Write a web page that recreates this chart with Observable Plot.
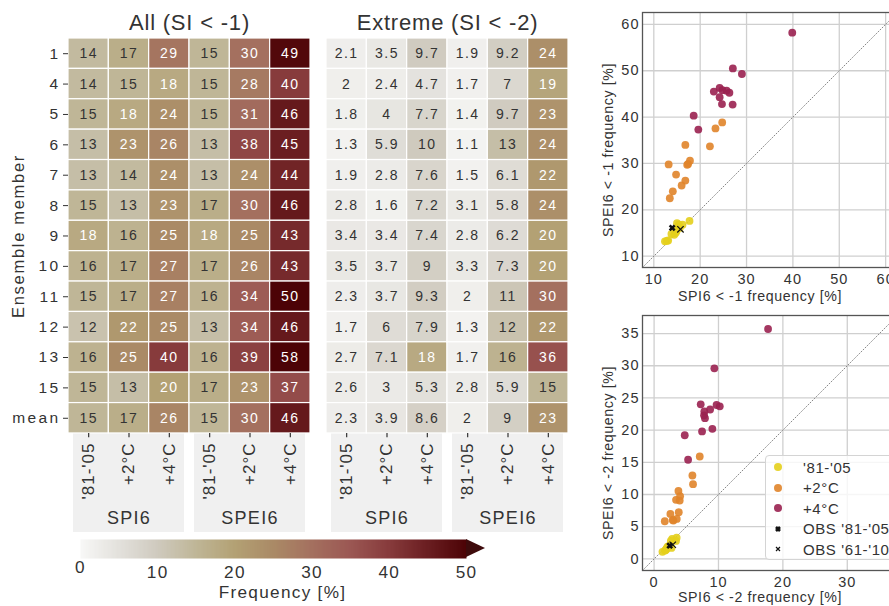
<!DOCTYPE html>
<html><head><meta charset="utf-8">
<script src="https://cdn.jsdelivr.net/npm/d3@7"></script>
<script src="https://cdn.jsdelivr.net/npm/@observablehq/plot@0.6"></script>
<style>
html,body{margin:0;padding:0;background:#fff;overflow:hidden;}
#root{position:relative;width:889px;height:606px;overflow:hidden;font-family:"Liberation Sans",Arial,sans-serif;color:#333;}
.abs{position:absolute;}
.abs svg{max-width:none !important;}
[font-size="14"]{letter-spacing:1.5px;}
[font-size="15.5"]{letter-spacing:2.4px;}
[font-size="17"]{letter-spacing:1px;}
[font-size="18"]{letter-spacing:1.3px;}
[font-size="22"]{letter-spacing:0.8px;}
[font-size="16.5"]{letter-spacing:1.7px;}
[font-size="17.2"]{letter-spacing:1.3px;}
[font-size="14.5"]{letter-spacing:1px;}
[font-size="14.2"]{letter-spacing:0.6px;}
.leg{font-size:15px;letter-spacing:0.6px;color:#333;}
</style></head><body><div id="root"></div>
<script>
// ---------- DATA ----------
const rows = ["1","4","5","6","7","8","9","10","11","12","13","15","mean"];
const cols = ["'81-'05","+2°C","+4°C","'81-'05","+2°C","+4°C"];
const groups = ["SPI6","SPEI6"];

// All (SI < -1)
const allSpiHist = [14,14,15,13,13,15,18,16,15,12,16,15,15];
const allSpi2    = [17,15,18,23,14,13,16,17,17,22,25,13,17];
const allSpi4    = [29,18,24,26,24,23,25,27,27,25,40,20,26];
const allSpeiHist= [15,15,15,13,13,17,18,17,16,13,16,17,15];
const allSpei2   = [30,28,31,38,24,30,25,26,34,34,39,23,30];
const allSpei4   = [49,40,46,45,44,46,43,43,50,46,58,37,46];

// Extreme (SI < -2)
const extSpiHist = [2.1,2,1.8,1.3,1.9,2.8,3.4,3.5,2.3,1.7,2.7,2.6,2.3];
const extSpi2    = [3.5,2.4,4,5.9,2.8,1.6,3.4,3.7,3.7,6,7.1,3,3.9];
const extSpi4    = [9.7,4.7,7.7,10,7.6,7.2,7.4,9,9.3,7.9,18,5.3,8.6];
const extSpeiHist= [1.9,1.7,1.4,1.1,1.5,3.1,2.8,3.3,2,1.3,1.7,2.8,2];
const extSpei2   = [9.2,7,9.7,13,6.1,5.8,6.2,7.3,11,12,16,5.9,9];
const extSpei4   = [24,19,23,24,22,24,20,20,30,22,36,15,23];

// Scatter (unrounded positions)
const sc1HistX = [13.8,14.4,14.7,12.8,13.1,15.0,17.7,16.2,15.2,12.4,15.6,15.4,14.9];
const sc1HistY = [14.8,14.6,15.0,13.3,13.4,17.1,17.6,16.8,16.3,13.2,16.1,16.8,15.4];
const sc1P2X = [17.4,14.8,17.8,23.3,14.1,13.2,16.0,16.8,16.8,22.1,24.75,13.45,17.2];
const sc1P2Y = [29.9,27.6,30.6,37.55,24.0,29.8,25.25,26.3,34.0,33.7,38.85,22.5,29.7];
const sc1P4X = [29.0,18.6,24.2,26.3,24.2,22.95,24.7,27.0,27.05,24.8,39.86,19.6,25.7];
const sc1P4Y = [49.3,40.3,46.3,45.25,44.3,45.5,42.8,42.7,50.5,45.8,58.2,37.3,45.7];
const sc1Obs81 = [13.96,16.1];
const sc1Obs61 = [15.75,15.8];

const sc2HistX = [2.1,2,1.8,1.3,1.9,2.8,3.4,3.5,2.3,1.7,2.7,2.6,2.3];
const sc2HistY = [1.9,1.7,1.4,1.1,1.5,3.1,2.8,3.3,2,1.3,1.7,2.8,2];
const sc2P2X = [3.41,2.53,4.04,5.95,2.9,1.66,3.52,3.83,3.78,6.05,7.09,3.0,3.98];
const sc2P2Y = [9.17,6.99,9.74,12.95,6.06,5.85,6.21,7.25,10.56,11.6,15.9,5.95,9.06];
const sc2P4X = [9.7,4.76,7.8,10.2,7.76,7.24,7.45,9.05,9.36,7.9,17.7,5.28,8.7];
const sc2P4Y = [23.9,19.2,22.9,23.7,22.3,24.0,19.8,20.2,29.6,21.85,35.7,15.4,23.2];
const sc2Obs81 = [2.43,2.07];
const sc2Obs61 = [2.9,2.2];

const sc1Ticks = [10,20,30,40,50,60];
const sc2TicksX = [0,10,20,30];
const sc2TicksY = [0,5,10,15,20,25,30,35];
const legendLabels = ["'81-'05","+2°C","+4°C","OBS '81-'05","OBS '61-'10"];
const cbTicks = [0,10,20,30,40,50];

// ---------- STYLE ----------
const FONT = '"Liberation Sans", Arial, sans-serif';
const cHist = "#e4cf1c", cP2 = "#e0842a", cP4 = "#9a2150";
const colorOpts = {
  type: "linear", clamp: true,
  domain: [0,5,10,15,20,25,30,35,40,45,50],
  range: ["#f8f8f7","#e3e1dc","#cfcabe","#bfb697","#b3a174","#aa8a66","#a4705f","#9b5753","#873b3c","#6b1e21","#4c0306"]
};
const fmt = d3.format(".2~g");
const root = document.getElementById("root");
function place(el, left, top, w) {
  const d = document.createElement("div");
  d.className = "abs"; d.style.left = left + "px"; d.style.top = top + "px";
  if (w) d.style.width = w + "px";
  d.appendChild(el); root.appendChild(d); return d;
}

// ---------- HEATMAPS ----------
function heat(valueCols, {title, showRows, frameLeft}) {
  const data = [];
  valueCols.forEach((col, c) => col.forEach((v, r) => data.push({c, r, v})));
  const mL = showRows ? 68 : 10;
  const W = mL + 242 + 10;
  const plot = Plot.plot({
    width: W, height: 540,
    marginLeft: mL, marginRight: 10, marginTop: 38, marginBottom: 8,
    style: {fontFamily: FONT, color: "#333", background: "transparent", maxWidth: "none"},
    x: {domain: [0, 6], axis: null},
    y: {domain: [0, 16.26], reverse: true, axis: null},
    color: colorOpts,
    marks: [
      Plot.rect(groups, {x1: (d,i) => i*3, x2: (d,i) => i*3+3, y1: 13, y2: 16.26, fill: "#f0f0f0", insetLeft: 5, insetRight: 5}),
      Plot.rect(data, {x1: d => d.c, x2: d => d.c + 1, y1: d => d.r, y2: d => d.r + 1, fill: d => d.v, stroke: "white", strokeWidth: 1.2}),
      Plot.text(data, {filter: d => d.v <= 17.5, x: d => d.c + 0.5, y: d => d.r + 0.5, text: d => fmt(d.v), fill: "#333", fontSize: 14}),
      Plot.text(data, {filter: d => d.v > 17.5, x: d => d.c + 0.5, y: d => d.r + 0.5, text: d => fmt(d.v), fill: "white", fontSize: 14}),
      Plot.ruleX(cols, {x: (d,i) => i + 0.5, y1: 13, y2: 13.14, stroke: "#333", strokeWidth: 1.2}),
      Plot.text(cols, {x: (d,i) => i + 0.5, y: 13, dy: 9, rotate: -90, textAnchor: "end", lineAnchor: "middle", fontSize: 17, fill: "#333"}),
      Plot.text(groups, {x: (d,i) => i*3 + 1.5, y: 15.8, fontSize: 18, fill: "#333"}),
      Plot.text([title], {frameAnchor: "top", lineAnchor: "middle", dy: -16, fontSize: 22, fill: "#333"}),
      ...(showRows ? [
        Plot.axisY(rows.map((_, i) => i + 0.5), {tickFormat: d => rows[Math.floor(d)], tickSize: 5, tickPadding: 3, fontSize: 15.5, label: null}),
        Plot.text(["Ensemble member"], {frameAnchor: "left", textAnchor: "middle", lineAnchor: "middle", y: 6.5, dx: -50, rotate: -90, fontSize: 16.5, fill: "#333"})
      ] : [])
    ]
  });
  place(plot, frameLeft - mL, 0, W);
}
heat([allSpiHist, allSpi2, allSpi4, allSpeiHist, allSpei2, allSpei4], {title: "All (SI < -1)", showRows: true, frameLeft: 68});
heat([extSpiHist, extSpi2, extSpi4, extSpeiHist, extSpei2, extSpei4], {title: "Extreme (SI < -2)", showRows: false, frameLeft: 326});

// ---------- COLORBAR ----------
const cb = Plot.plot({
  width: 440, height: 70, marginLeft: 20, marginRight: 34, marginTop: 3, marginBottom: 48,
  style: {fontFamily: FONT, color: "#333", background: "transparent", maxWidth: "none"},
  x: {domain: [0, 50], axis: null}, y: {domain: [0, 1], axis: null},
  color: colorOpts,
  marks: [
    Plot.raster({x1: 0, x2: 50, y1: 0, y2: 1, width: 300, height: 1, fill: (x, y) => x, imageRendering: "auto"}),
    Plot.text(cbTicks.filter(t => t > 0), {x: d => d, frameAnchor: "bottom", lineAnchor: "middle", dy: 14, fontSize: 17.2, fill: "#333"}),
    Plot.text(cbTicks.filter(t => t === 0), {x: d => d, frameAnchor: "bottom", lineAnchor: "middle", dy: 8.5, fontSize: 17.2, fill: "#333"}),
    Plot.text(["Frequency [%]"], {x: 25, frameAnchor: "bottom", lineAnchor: "middle", dy: 34, dx: 9, fontSize: 17.2, fill: "#333"})
  ]
});
place(cb, 60, 536, 440);
const tri = document.createElement("div");
tri.className = "abs";
tri.style.cssText = "left:466px;top:539px;width:0;height:0;border-top:9.5px solid transparent;border-bottom:9.5px solid transparent;border-left:19px solid #3e0b0c;";
root.appendChild(tri);

// ---------- SCATTERS ----------
function scatter({top, height, marginTop, dom, ticksX, ticksY, xlab, ylab, labDy, hx, hy, p2x, p2y, p4x, p4y, o81, o61}) {
  const plot = Plot.plot({
    width: 320, height, marginLeft: 52, marginRight: 13, marginTop, marginBottom: height - marginTop - 255,
    style: {fontFamily: FONT, color: "#333", background: "transparent", maxWidth: "none", overflow: "visible"},
    x: {domain: dom, axis: null}, y: {domain: dom, axis: null},
    marks: [
      Plot.gridX(ticksX, {stroke: "#cfcfcf", strokeOpacity: 1, strokeWidth: 1.3}),
      Plot.gridY(ticksY, {stroke: "#cfcfcf", strokeOpacity: 1, strokeWidth: 1.3}),
      Plot.line(dom, {x: d => d, y: d => d, stroke: "#888", strokeWidth: 1, strokeDasharray: "1,2"}),
      Plot.dot(hx, {x: hx, y: hy, r: 3.9, fill: cHist, fillOpacity: 0.9}),
      Plot.dot(p2x, {x: p2x, y: p2y, r: 3.9, fill: cP2, fillOpacity: 0.9}),
      Plot.dot(p4x, {x: p4x, y: p4y, r: 3.9, fill: cP4, fillOpacity: 0.9}),
      Plot.dot([o81], {x: d => d[0], y: d => d[1], symbol: "times", r: 2.4, stroke: "#111", strokeWidth: 2.6}),
      Plot.dot([o61], {x: d => d[0], y: d => d[1], symbol: "times", r: 3.0, stroke: "#111", strokeWidth: 1.2}),
      Plot.frame({stroke: "#555", strokeWidth: 1.3}),
      Plot.axisX(ticksX, {tickSize: 0, tickPadding: 6, fontSize: 14.5, label: null}),
      Plot.axisY(ticksY, {tickSize: 0, tickPadding: 3, fontSize: 14.5, label: null}),
      Plot.text([xlab], {frameAnchor: "bottom", lineAnchor: "middle", dy: labDy, dx: -10, fontSize: 14.2, fill: "#333"}),
      Plot.text([ylab], {frameAnchor: "left", textAnchor: "middle", lineAnchor: "middle", dx: -34, dy: 10, rotate: -90, fontSize: 14.2, fill: "#333"})
    ]
  });
  place(plot, 590, top, 320);
}
scatter({top: 0, height: 312, marginTop: 12, dom: [7.56, 62.56], ticksX: sc1Ticks, ticksY: sc1Ticks, labDy: 29,
  xlab: "SPI6 < -1 frequency [%]", ylab: "SPEI6 < -1 frequency [%]",
  hx: sc1HistX, hy: sc1HistY, p2x: sc1P2X, p2y: sc1P2Y, p4x: sc1P4X, p4y: sc1P4Y, o81: sc1Obs81, o61: sc1Obs61});
scatter({top: 302, height: 304, marginTop: 13, dom: [-1.8, 37.8], ticksX: sc2TicksX, ticksY: sc2TicksY, labDy: 27,
  xlab: "SPI6 < -2 frequency [%]", ylab: "SPEI6 < -2 frequency [%]",
  hx: sc2HistX, hy: sc2HistY, p2x: sc2P2X, p2y: sc2P2Y, p4x: sc2P4X, p4y: sc2P4Y, o81: sc2Obs81, o61: sc2Obs61});

// ---------- LEGEND ----------
const leg = document.createElement("div");
leg.className = "abs leg";
leg.style.cssText += "left:765px;top:455px;width:140px;height:103px;border:1px solid #d4d4d4;border-radius:4px;background:rgba(255,255,255,0.8);";
const legSym = [
  {t: "dot", c: cHist}, {t: "dot", c: cP2}, {t: "dot", c: cP4}, {t: "bold"}, {t: "thin"}
];
legendLabels.forEach((lab, i) => {
  const s = legSym[i];
  const row = document.createElement("div");
  row.style.cssText = `position:absolute;left:0;top:${1 + i*20.6}px;height:20px;display:flex;align-items:center;white-space:nowrap;`;
  let svg;
  if (s.t === "dot") svg = `<svg width="24" height="20"><circle cx="12" cy="10" r="4" fill="${s.c}" fill-opacity="0.9"/></svg>`;
  else if (s.t === "bold") svg = `<svg width="24" height="20"><path d="M10,8L14,12M14,8L10,12" stroke="#111" stroke-width="2.6"/></svg>`;
  else svg = `<svg width="24" height="20"><path d="M10,8L14,12M14,8L10,12" stroke="#111" stroke-width="1.2"/></svg>`;
  row.innerHTML = svg + `<span style="margin-left:13px">${lab}</span>`;
  leg.appendChild(row);
});
root.appendChild(leg);
</script></body></html>
